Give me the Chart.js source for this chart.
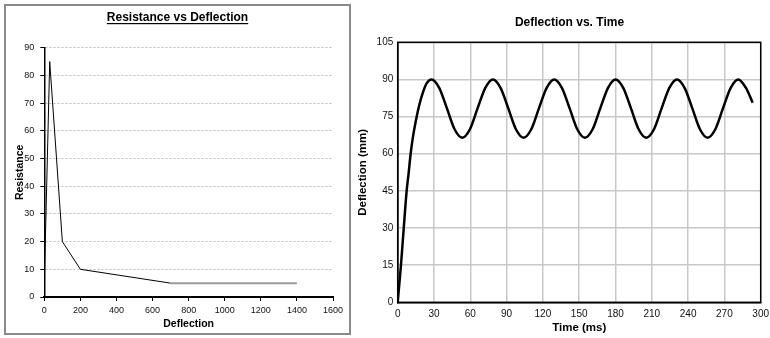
<!DOCTYPE html>
<html><head><meta charset="utf-8">
<script src="https://cdn.jsdelivr.net/npm/chart.js@4.4.0/dist/chart.umd.min.js"></script>
<style>
html,body{margin:0;padding:0;background:#fff;overflow:hidden;}
#wrap{position:relative;width:770px;height:338px;}
#box{position:absolute;left:4px;top:4px;width:347px;height:331px;box-sizing:border-box;border:2px solid #8a8a8a;}
#c1{position:absolute;left:0;top:0;}
#c2{position:absolute;left:350px;top:0;}
</style></head><body>
<div id="wrap"><div id="box"></div><canvas id="c1" width="355" height="338"></canvas><canvas id="c2" width="420" height="338"></canvas></div>
<script>
// ---- data: Resistance vs Deflection ----
const resDeflection = [0, 30, 100, 200, 700, 1400];
const resResistance = [5, 85, 20, 10, 5, 5];
const resXTicks = [0, 200, 400, 600, 800, 1000, 1200, 1400, 1600];
const resYTicks = [0, 10, 20, 30, 40, 50, 60, 70, 80, 90];

// ---- data: Deflection vs Time ----
const timeMs = [0, 2.7, 5, 7.4, 9, 10.7, 13, 15.7, 18, 21, 24, 28,
  34.3, 40.7, 47, 53.4, 59.7, 66, 72.4, 78.7,
  85, 91.4, 97.7, 104, 110.4, 116.7, 123.1, 129.4,
  135.7, 142.1, 148.4, 154.7, 161.1, 167.4, 173.8, 180.1,
  186.4, 192.8, 199.1, 205.4, 211.8, 218.1, 224.5, 230.8,
  237.1, 243.5, 249.8, 256.1, 262.5, 268.8, 275.2, 281.5,
  287.8, 293.4];
const deflectionMm = [0, 15, 30, 45, 52, 60, 68, 75, 80, 85, 88.5, 90,
  86.6, 78.3, 69.9, 66.5, 69.9, 78.3, 86.6, 90,
  86.6, 78.3, 69.9, 66.5, 69.9, 78.3, 86.6, 90,
  86.6, 78.3, 69.9, 66.5, 69.9, 78.3, 86.6, 90,
  86.6, 78.3, 69.9, 66.5, 69.9, 78.3, 86.6, 90,
  86.6, 78.3, 69.9, 66.5, 69.9, 78.3, 86.6, 90,
  86.6, 80.6];
const timeTicks = [0, 30, 60, 90, 120, 150, 180, 210, 240, 270, 300];
const defTicks = [0, 15, 30, 45, 60, 75, 90, 105];

const FONT = "'Liberation Sans', Arial, Helvetica, sans-serif";

const titlePlugin = {
  id: 'fixedTitle',
  afterDraw(chart, args, o) {
    const ctx = chart.ctx;
    ctx.save();
    ctx.font = o.font;
    ctx.fillStyle = '#000';
    ctx.textAlign = 'center';
    ctx.textBaseline = 'middle';
    ctx.fillText(o.text, o.x, o.y);
    if (o.underline) {
      const w = ctx.measureText(o.text).width;
      ctx.fillRect(o.x - w / 2, o.y + o.underlineOffset, w, 1.2);
    }
    ctx.restore();
  }
};
const framePlugin = {
  id: 'frame',
  beforeDatasetsDraw(chart, args, o) {
    if (!o.enabled) return;
    const {left, top, right, bottom} = chart.chartArea;
    const ctx = chart.ctx;
    ctx.save();
    ctx.strokeStyle = '#000';
    ctx.lineWidth = 1.5;
    ctx.strokeRect(left, top, right - left, bottom - top);
    ctx.restore();
  }
};

const setTicks = arr => s => { s.ticks = arr.map(v => ({value: v})); };

new Chart(document.getElementById('c1'), {
  type: 'line',
  data: {
    datasets: [{
      data: resDeflection.map((x, i) => ({x: x, y: resResistance[i]})),
      borderColor: '#000',
      borderWidth: 1,
      pointRadius: 0,
      tension: 0,
      segment: {
        borderColor: c => c.p0.parsed.x >= 700 ? '#9a9a9a' : '#000',
        borderWidth: c => c.p0.parsed.x >= 700 ? 2 : 1
      }
    }]
  },
  options: {
    responsive: false, animation: false, devicePixelRatio: 1,
    layout: {padding: {left: 0, right: 22, top: 47.7, bottom: 0}},
    plugins: {
      legend: {display: false}, tooltip: {enabled: false},
      fixedTitle: {text: 'Resistance vs Deflection', x: 177.5, y: 18, font: 'bold 12px ' + FONT, underline: true, underlineOffset: 5}
    },
    scales: {
      x: {
        type: 'linear', min: 0, max: 1600,
        afterFit: s => { s.height = 41; s.paddingLeft = 0; s.paddingRight = 0; },
        afterBuildTicks: setTicks(resXTicks),
        grid: {drawOnChartArea: false, drawTicks: true, tickLength: 4, tickColor: '#000', tickWidth: 1},
        border: {color: '#000', width: 2},
        ticks: {font: {family: FONT, size: 9}, color: '#111', padding: 4, maxRotation: 0, autoSkip: false, callback: v => String(v)},
        title: {display: true, text: 'Deflection', color: '#000', font: {family: FONT, size: 10.5, weight: 'bold'}, padding: {top: 0, bottom: 7.7}}
      },
      y: {
        type: 'linear', min: 0, max: 90,
        afterFit: s => { s.width = 44.3; },
        afterBuildTicks: setTicks(resYTicks),
        grid: {color: c => (c.tick && c.tick.value === 0) ? 'rgba(0,0,0,0)' : '#bdbdbd', lineWidth: 1, tickLength: 4, tickColor: '#000', tickWidth: 1, tickBorderDash: []},
        border: {color: '#000', width: 1.5, dash: [2, 2]},
        ticks: {font: {family: FONT, size: 9}, color: '#111', padding: 6, autoSkip: false, callback: v => String(v)},
        title: {display: true, text: 'Resistance', color: '#000', font: {family: FONT, size: 10.5, weight: 'bold'}, padding: {top: 13.7, bottom: 0}}
      }
    }
  },
  plugins: [titlePlugin]
});

new Chart(document.getElementById('c2'), {
  type: 'line',
  data: {
    datasets: [{
      data: timeMs.map((x, i) => ({x: x, y: deflectionMm[i]})),
      borderColor: '#000',
      borderWidth: 2.5,
      pointRadius: 0,
      cubicInterpolationMode: 'monotone'
    }]
  },
  options: {
    responsive: false, animation: false, devicePixelRatio: 1,
    layout: {padding: {left: 0, right: 9.3, top: 42.3, bottom: 0}},
    plugins: {
      legend: {display: false}, tooltip: {enabled: false},
      fixedTitle: {text: 'Deflection vs. Time', x: 219.5, y: 23, font: 'bold 12px ' + FONT, underline: false},
      frame: {enabled: true}
    },
    scales: {
      x: {
        type: 'linear', min: 0, max: 300,
        afterFit: s => { s.height = 35.7; s.paddingLeft = 0; s.paddingRight = 0; },
        afterBuildTicks: setTicks(timeTicks),
        grid: {color: '#c8c8c8', lineWidth: 1.5, drawTicks: false},
        border: {color: '#000', width: 1.5},
        ticks: {font: {family: FONT, size: 10}, color: '#111', padding: 5.7, maxRotation: 0, autoSkip: false, callback: v => String(v)},
        title: {display: true, text: 'Time (ms)', color: '#000', font: {family: FONT, size: 11.5, weight: 'bold'}, padding: {top: 0, bottom: 3.1}}
      },
      y: {
        type: 'linear', min: 0, max: 105,
        afterFit: s => { s.width = 47.7; },
        afterBuildTicks: setTicks(defTicks),
        grid: {color: '#c8c8c8', lineWidth: 1.5, drawTicks: false},
        border: {color: '#000', width: 1.5},
        ticks: {font: {family: FONT, size: 10}, color: '#111', padding: 4.4, autoSkip: false, callback: v => String(v)},
        title: {display: true, text: 'Deflection (mm)', color: '#000', font: {family: FONT, size: 11.5, weight: 'bold'}, padding: {top: 6.1, bottom: 0}}
      }
    }
  },
  plugins: [titlePlugin, framePlugin]
});
</script>
</body></html>
